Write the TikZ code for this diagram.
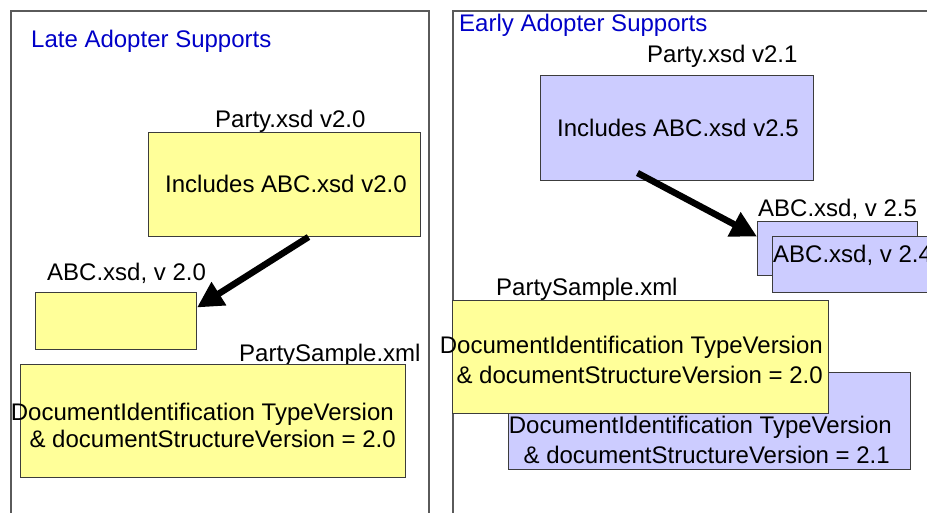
\documentclass[tikz,border=0pt]{standalone}
\usepackage{fontspec}
\setmainfont{Liberation Sans}
\usetikzlibrary{arrows.meta}

\definecolor{paleyellow}{RGB}{255,255,153}
\definecolor{paleblue}{RGB}{204,204,255}
\definecolor{titleblue}{RGB}{0,0,200}
\definecolor{edgegray}{RGB}{60,60,60}
\definecolor{framegray}{RGB}{90,90,90}

\tikzset{
  txt/.style={inner sep=0pt, font=\fontsize{24}{28}\selectfont},
  heading/.style={txt, text=titleblue},
  box/.style={draw=edgegray, line width=1pt, inner sep=0pt},
  ybox/.style={box, fill=paleyellow},
  bbox/.style={box, fill=paleblue},
  frame/.style={draw=framegray, line width=1.4pt},
  bigarrow/.style={line width=6.5pt, -{Triangle[length=26pt,width=26pt]}},
}

\begin{document}
\begin{tikzpicture}[x=1pt, y=-1pt]
  \clip (0,0) rectangle (927,513);
  \fill[white] (0,0) rectangle (927,513);

  % ---------- left panel ----------
  \draw[frame] (11,520) -- (11,11) -- (429,11) -- (429,520);
  \node[heading, anchor=base west] (ltitle) at (31,48) {Late Adopter Supports};

  \node[txt, anchor=base west] (lpartylbl) at (215,128) {Party.xsd v2.0};
  \node[ybox, minimum width=272pt, minimum height=104pt, anchor=north west] (lparty) at (148,132) {};
  \node[txt, anchor=base west] (lpartytxt) at (165,193) {Includes ABC.xsd v2.0};

  \node[txt, anchor=base west] (labclbl) at (47,280) {ABC.xsd, v 2.0};
  \node[ybox, minimum width=161pt, minimum height=57pt, anchor=north west] (labc) at (35,292) {};

  \node[txt, anchor=base west] (lsamplelbl) at (239,361) {PartySample.xml};
  \node[ybox, minimum width=385pt, minimum height=113pt, anchor=north west] (ldoc) at (20,364) {};
  \node[txt, anchor=base east] (ldocA) at (394,420) {DocumentIdentification TypeVersion};
  \node[txt, anchor=base east] (ldocB) at (396,447) {\& documentStructureVersion = 2.0};

  \draw[bigarrow] ([xshift=24pt]lparty.south) -- ([yshift=13.5pt]labc.east);

  % ---------- right panel ----------
  \draw[frame] (453,520) -- (453,11) -- (940,11);
  \node[heading, anchor=base west] (rtitle) at (459,32) {Early Adopter Supports};

  \node[txt, anchor=base west] (rpartylbl) at (647,63) {Party.xsd v2.1};
  \node[bbox, minimum width=273pt, minimum height=105pt, anchor=north west] (rparty) at (540,75) {};
  \node[txt, anchor=base west] (rpartytxt) at (557,137) {Includes ABC.xsd v2.5};

  \node[txt, anchor=base west] (rabclbl) at (758,217) {ABC.xsd, v 2.5};
  \node[bbox, minimum width=160pt, minimum height=54pt, anchor=north west] (rabcA) at (757,221) {};
  \node[bbox, minimum width=170pt, minimum height=56pt, anchor=north west] (rabcB) at (772,236) {};
  \node[txt, anchor=base west] (rabcBtxt) at (773,263) {ABC.xsd, v 2.4};

  \draw[bigarrow] ([xshift=-39.5pt, yshift=8pt]rparty.south) -- ([yshift=12pt]rabcA.west);

  \node[bbox, minimum width=402pt, minimum height=97pt, anchor=north west] (rdocnew) at (508,372) {};
  \node[txt, anchor=base east] (rdocnewA) at (892,433) {DocumentIdentification TypeVersion};
  \node[txt, anchor=base east] (rdocnewB) at (890,463) {\& documentStructureVersion = 2.1};

  \node[txt, anchor=base west] (rsamplelbl) at (496,295) {PartySample.xml};
  \node[ybox, minimum width=376pt, minimum height=113pt, anchor=north west] (rdocold) at (452,300) {};
  \node[txt, anchor=base east] (rdocoldA) at (823,353) {DocumentIdentification TypeVersion};
  \node[txt, anchor=base east] (rdocoldB) at (823,383) {\& documentStructureVersion = 2.0};
\end{tikzpicture}
\end{document}
